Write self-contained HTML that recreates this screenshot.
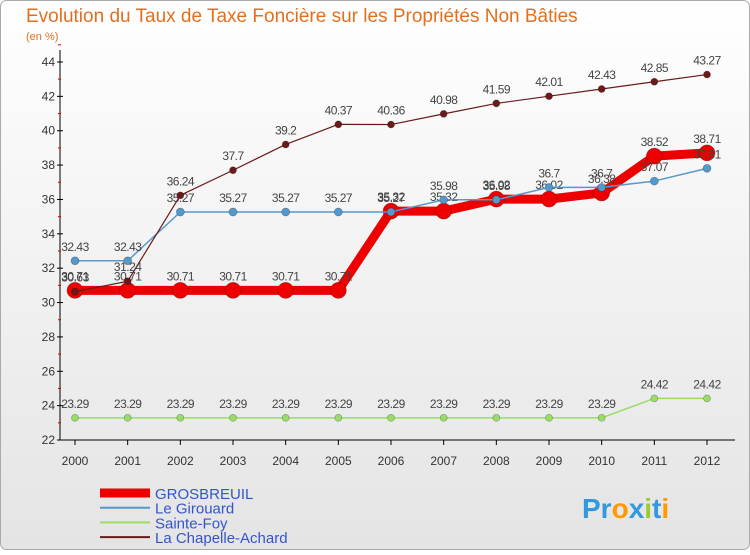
<!DOCTYPE html>
<html><head><meta charset="utf-8"><style>
body{margin:0;width:750px;height:550px;overflow:hidden;font-family:"Liberation Sans",sans-serif}
</style></head><body>
<svg width="750" height="550" viewBox="0 0 750 550" xmlns="http://www.w3.org/2000/svg">
<defs><linearGradient id="bg" x1="0" y1="0" x2="0" y2="1"><stop offset="0" stop-color="#ffffff"/><stop offset="1" stop-color="#e4e4e4"/></linearGradient></defs>
<rect x="0.5" y="0.5" width="749" height="549" rx="6" fill="url(#bg)" stroke="#aaa"/>
<text x="26" y="22" font-size="19" fill="#e07020">Evolution du Taux de Taxe Foncière sur les Propriétés Non Bâties</text>
<text x="26" y="40" font-size="11" fill="#e07020">(en %)</text>
<g id="axes"></g><g id="series"></g><g id="legend"></g>
<text x="582" y="518" font-size="28" font-weight="bold" fill="#3399dd">Pr<tspan fill="#ff9900">o</tspan><tspan fill="#3399dd">x</tspan><tspan fill="#99cc33">i</tspan>t<tspan fill="#ff9900">i</tspan></text>
</svg>
<script>
const years=[2000,2001,2002,2003,2004,2005,2006,2007,2008,2009,2010,2011,2012];
const yTicks=[22,24,26,28,30,32,34,36,38,40,42,44];
const grosbreuil=[30.71,30.71,30.71,30.71,30.71,30.71,35.32,35.32,36.02,36.02,36.38,38.52,38.71];
const girouard=[32.43,32.43,35.27,35.27,35.27,35.27,35.27,35.98,35.98,36.7,36.7,37.07,37.81];
const sainteFoy=[23.29,23.29,23.29,23.29,23.29,23.29,23.29,23.29,23.29,23.29,23.29,24.42,24.42];
const chapelle=[30.63,31.24,36.24,37.7,39.2,40.37,40.36,40.98,41.59,42.01,42.43,42.85,43.27];
const seriesNames=["GROSBREUIL","Le Girouard","Sainte-Foy","La Chapelle-Achard"];
const NS="http://www.w3.org/2000/svg";
const X=i=>75+i*(707-75)/12;
const Y=v=>440-(v-22)*(440-62)/22;
function mk(p,t,a){const e=document.createElementNS(NS,t);for(const k in a)e.setAttribute(k,a[k]);p.appendChild(e);return e;}
const ax=document.getElementById('axes');
const yl=mk(ax,'line',{x1:60,y1:50,x2:60,y2:440,stroke:'#000'});


const xl=mk(ax,'line',{x1:60,y1:440,x2:735,y2:440,stroke:'#000'});


yTicks.forEach(v=>{
 mk(ax,'line',{x1:57,y1:Y(v),x2:63,y2:Y(v),stroke:'#000'});
 mk(ax,'line',{x1:58,y1:Y(v+1),x2:61,y2:Y(v+1),stroke:'#d00'});
 const t=mk(ax,'text',{x:55,y:Y(v)+4,'font-size':12,'text-anchor':'end',fill:'#333'});
 t.textContent=v;
 
 
});
years.forEach((yr,i)=>{
 mk(ax,'line',{x1:X(i),y1:440,x2:X(i),y2:445,stroke:'#000'});
 const t=mk(ax,'text',{x:X(i),y:465,'font-size':12,'text-anchor':'middle',fill:'#333'});
 t.textContent=yr;
 
 
});
const sg=document.getElementById('series');
function draw(vals,color,w,r,name,labelColor){
 const g=mk(sg,'g',{});
 
 
 mk(g,'polyline',{points:vals.map((v,i)=>X(i)+','+Y(v)).join(' '),fill:'none',stroke:color,'stroke-width':w,'stroke-linejoin':'round'});
 vals.forEach((v,i)=>{
  const c=mk(g,'circle',{cx:X(i),cy:Y(v),r:r,fill:color,stroke:'rgba(0,0,0,0.3)','stroke-width':0.7});
  
  
  const t=mk(g,'text',{x:X(i),y:Y(v)-10,'font-size':12,'text-anchor':'middle',fill:'#444','letter-spacing':'-0.5'});
  t.textContent=v;
  
  
 });
}
draw(grosbreuil,'#ee0000',9,8,'grosbreuil');
draw(sainteFoy,'#99dd66',1.5,3.5,'sainte-foy');
draw(girouard,'#5599cc',1.5,4,'le-girouard');
draw(chapelle,'#6b1a1a',1.2,3.5,'la-chapelle-achard');
const lg=document.getElementById('legend');
const lc=['#ee0000','#5599cc','#99dd66','#6b1a1a'],lw=[9,2,2,2];
seriesNames.forEach((n,i)=>{
 const y=493+i*14.7;
 const g=mk(lg,'g',{});
 
 
 mk(g,'line',{x1:100,y1:y,x2:150,y2:y,stroke:lc[i],'stroke-width':lw[i]});
 const t=mk(g,'text',{x:155,y:y+6,'font-size':15,fill:'#3355cc'});
 t.textContent=n;
});
</script>
</body></html>
